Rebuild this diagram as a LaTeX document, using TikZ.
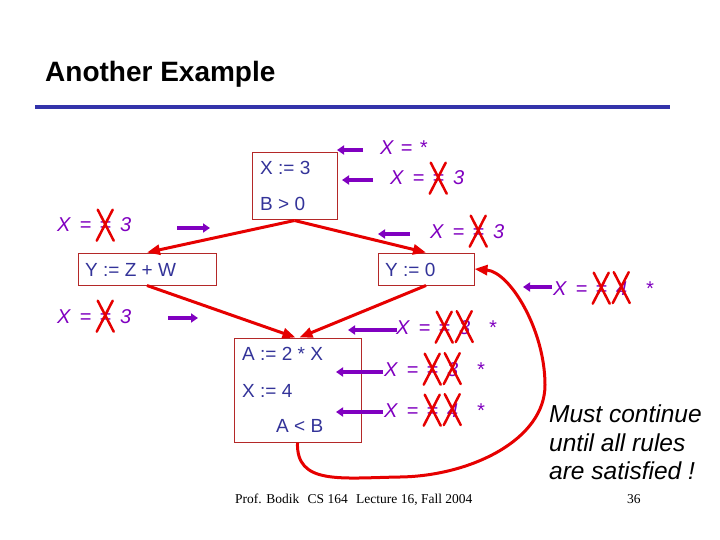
\documentclass[tikz,border=0pt]{standalone}
\usepackage{fontspec}
\setmainfont{Liberation Sans}
\newfontfamily\seriffont{Liberation Serif}
\usetikzlibrary{arrows.meta}
\definecolor{boxred}{RGB}{180,40,40}
\definecolor{edgered}{RGB}{230,0,0}
\definecolor{purp}{RGB}{128,0,192}
\definecolor{navy}{RGB}{51,51,153}
\definecolor{ruleblue}{RGB}{51,51,170}
\tikzset{
  crossx/.style={draw=edgered, line width=2.5pt, line cap=round, overlay},
  lab/.style={text=purp, font=\fontsize{20}{24}\selectfont\itshape, anchor=base west, inner sep=0pt},
  boxtxt/.style={text=navy, font=\fontsize{19}{22}\selectfont, anchor=base west, inner sep=0pt},
  box/.style={draw=boxred, line width=1pt, inner sep=0pt},
  redge/.style={draw=edgered, line width=3pt, -{Triangle[length=13pt,width=10pt]}},
  parrow/.style={draw=purp, line width=3.5pt, -{Triangle[length=7pt,width=9pt]}},
  note/.style={font=\fontsize{24.5}{28}\selectfont\itshape, anchor=base west, inner sep=0pt}
}
\newcommand{\xo}[1]{\tikz[baseline=(xo.base)]{\node[inner sep=0pt,outer sep=0pt](xo){#1};
 \draw[crossx] ([shift={(-8pt,16pt)}]xo.center) -- ([shift={(8pt,-15pt)}]xo.center);
 \draw[crossx] ([shift={(7pt,16pt)}]xo.center) -- ([shift={(-9pt,-15pt)}]xo.center);}}
\newcommand{\gp}{\hspace{9pt}}
\begin{document}
\begin{tikzpicture}[x=1pt,y=-1pt]
\useasboundingbox[fill=white] (0,0) rectangle (720,540);
% title and rule
\node[anchor=base west, inner sep=0pt, font=\fontsize{28}{32}\selectfont\bfseries] (title) at (45,82) {Another Example};
\draw[ruleblue, line width=4pt] (35,107) -- (670,107);
% boxes
\node[box, minimum width=85pt, minimum height=67pt] (b1) at (294.5,186.5) {};
\node[box, minimum width=138pt, minimum height=32pt] (b2) at (147,269) {};
\node[box, minimum width=96pt, minimum height=32pt] (b3) at (426,269) {};
\node[box, minimum width=127pt, minimum height=104pt] (b4) at (297.5,390) {};
\node[boxtxt] (t1a) at (260,175) {X := 3};
\node[boxtxt] (t1b) at (260,211) {B > 0};
\node[boxtxt] (t2) at (85,276) {Y := Z + W};
\node[boxtxt] (t3) at (385,276) {Y := 0};
\node[boxtxt] (t4a) at (242,360) {A := 2 * X};
\node[boxtxt] (t4b) at (242,397) {X := 4};
\node[boxtxt] (t4c) at (276,432) {A < B};
% red edges
\draw[redge] (b1.south) -- (b2.north);
\draw[redge] (b1.south) -- (b3.north);
\draw[redge] (b2.south) -- ([xshift=-2pt]b4.north);
\draw[redge] (b3.south) -- ([xshift=2pt]b4.north);
\draw[redge] (b4.south) .. controls (296,485) and (340,478) .. (400,477)
  .. controls (470,476) and (545,440) .. (545,385)
  .. controls (545,330) and (510,272) .. (b3.east);
% purple arrows
\coordinate (p1s) at (363,150); \coordinate (p1e) at (337,150);
\coordinate (p2s) at (373,180); \coordinate (p2e) at (342,180);
\coordinate (p3s) at (410,234); \coordinate (p3e) at (378,234);
\coordinate (p4s) at (177,228); \coordinate (p4e) at (210,228);
\coordinate (p5s) at (168,318); \coordinate (p5e) at (198,318);
\coordinate (p6s) at (552,287); \coordinate (p6e) at (523,287);
\coordinate (p7s) at (397,330); \coordinate (p7e) at (348,330);
\coordinate (p8s) at (383,372); \coordinate (p8e) at (336,372);
\coordinate (p9s) at (383,412); \coordinate (p9e) at (336,412);
\foreach \i in {1,...,9} {\draw[parrow] (p\i s) -- (p\i e);}
% purple labels
\node[lab] (l1) at (380,155) {X\hspace{7pt}=\hspace{7pt}*};
\node[lab] (l2) at (390,185) {X\gp=\gp\xo{≠}\gp 3};
\node[lab] (l3) at (430,238) {X\gp=\gp\xo{≠}\gp 3};
\node[lab] (l4) at (57,232) {X\gp=\gp\xo{≠}\gp 3};
\node[lab] (l5) at (57,323) {X\gp=\gp\xo{≠}\gp 3};
\node[lab] (l6) at (553,295) {X\gp=\gp\xo{≠}\gp\xo{4}\gp\gp*};
\node[lab] (l7) at (396,334) {X\gp=\gp\xo{≠}\gp\xo{3}\gp\gp*};
\node[lab] (l8) at (384,376) {X\gp=\gp\xo{≠}\gp\xo{3}\gp\gp*};
\node[lab] (l9) at (384,417) {X\gp=\gp\xo{≠}\gp\xo{4}\gp\gp*};
% note
\node[note] (n1) at (549,422) {Must continue};
\node[note] (n2) at (549,451) {until all rules};
\node[note] (n3) at (549,479) {are satisfied !};
% footer
\node[anchor=base west, inner sep=0pt, font=\seriffont\fontsize{13.5}{16}\selectfont] (foot) at (235,503) {Prof. Bodik\hspace{5pt} CS 164\hspace{5pt} Lecture 16, Fall 2004};
\node[anchor=base west, inner sep=0pt, font=\seriffont\fontsize{13.5}{16}\selectfont] (pg) at (627,503) {36};
\end{tikzpicture}
\end{document}
